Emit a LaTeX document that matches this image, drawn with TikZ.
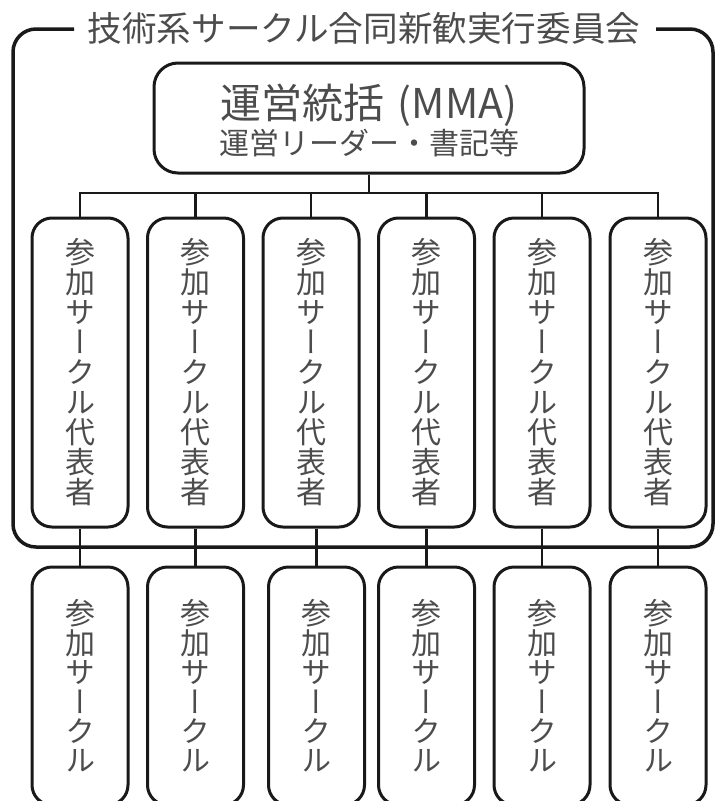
\documentclass[tikz,border=0pt]{standalone}
\usepackage{fontspec}
\setmainfont{Noto Sans CJK JP}
\newfontfamily\jpv[RawFeature={+vert}]{Noto Sans CJK JP}
\definecolor{txt}{gray}{0.3}
\definecolor{ink}{gray}{0.1}
\tikzset{
  box/.style={draw=ink, line width=3pt, rounded corners=20pt, inner sep=0pt, text=txt},
  repbox/.style={box, minimum width=96pt, minimum height=309pt, align=center,
     font=\jpv\fontsize{30}{30}\selectfont},
  cirbox/.style={box, minimum width=96pt, minimum height=238pt, align=center,
     font=\jpv\fontsize{30}{29.4}\selectfont},
  conn/.style={draw=ink, line width=2.6pt},
  frameline/.style={draw=ink, line width=3.5pt, rounded corners=23pt},
}
\begin{document}
\setlength{\lineskiplimit}{-20pt}%
\begin{tikzpicture}[x=1pt, y=-1pt]
\useasboundingbox (0,0) rectangle (716,801);
\clip (0,0) rectangle (716,801);
% title
\node[anchor=base, inner sep=0pt, text=txt, font=\fontsize{34.6}{40}\selectfont] (title) at (364,41) {技術系サークル合同新歓実行委員会};
\coordinate (fl) at (74,29);
\coordinate (fr) at (656,29);
\draw[frameline] (fl) -- (13,29) -- (13,547) -- (713,547) -- (713,29) -- (fr);
% top box
\node[box, rounded corners=24pt, minimum width=430pt, minimum height=110pt] (mma) at (369,118) {};
\node[anchor=base, inner sep=0pt, text=txt, font=\fontsize{41}{45}\selectfont] (mma1) at (369,118) {運営統括\hspace{0.32em}(MMA)};
\node[anchor=base, inner sep=0pt, text=txt, font=\fontsize{30}{34}\selectfont] (mma2) at (369,154) {運営リーダー・書記等};
\coordinate (bus) at (369,193);
% representatives
\foreach \i/\x in {1/80,2/195.5,3/311,4/426.5,5/542,6/658}{
  \node[repbox] (r\i) at (\x,372.5) {参\\加\\サ\\ー\\ク\\ル\\代\\表\\者};
}
% circles
\foreach \i/\x in {1/80,2/195.5,3/316.5,4/426.5,5/542,6/658}{
  \node[cirbox] (c\i) at (\x,686) {参\\加\\サ\\ー\\ク\\ル};
}
% connectors
\draw[conn] (mma.south) -- (bus);
\draw[conn] (r1.north) -- (r1.north |- bus) -- (r6.north |- bus) -- (r6.north);
\foreach \i in {2,3,4,5}{
  \draw[conn] (r\i.north) -- (r\i.north |- bus);
}
\foreach \i in {1,2,3,4,5,6}{
  \draw[conn] (c\i.north) -- (c\i.north |- r\i.south);
}
\end{tikzpicture}
\end{document}
